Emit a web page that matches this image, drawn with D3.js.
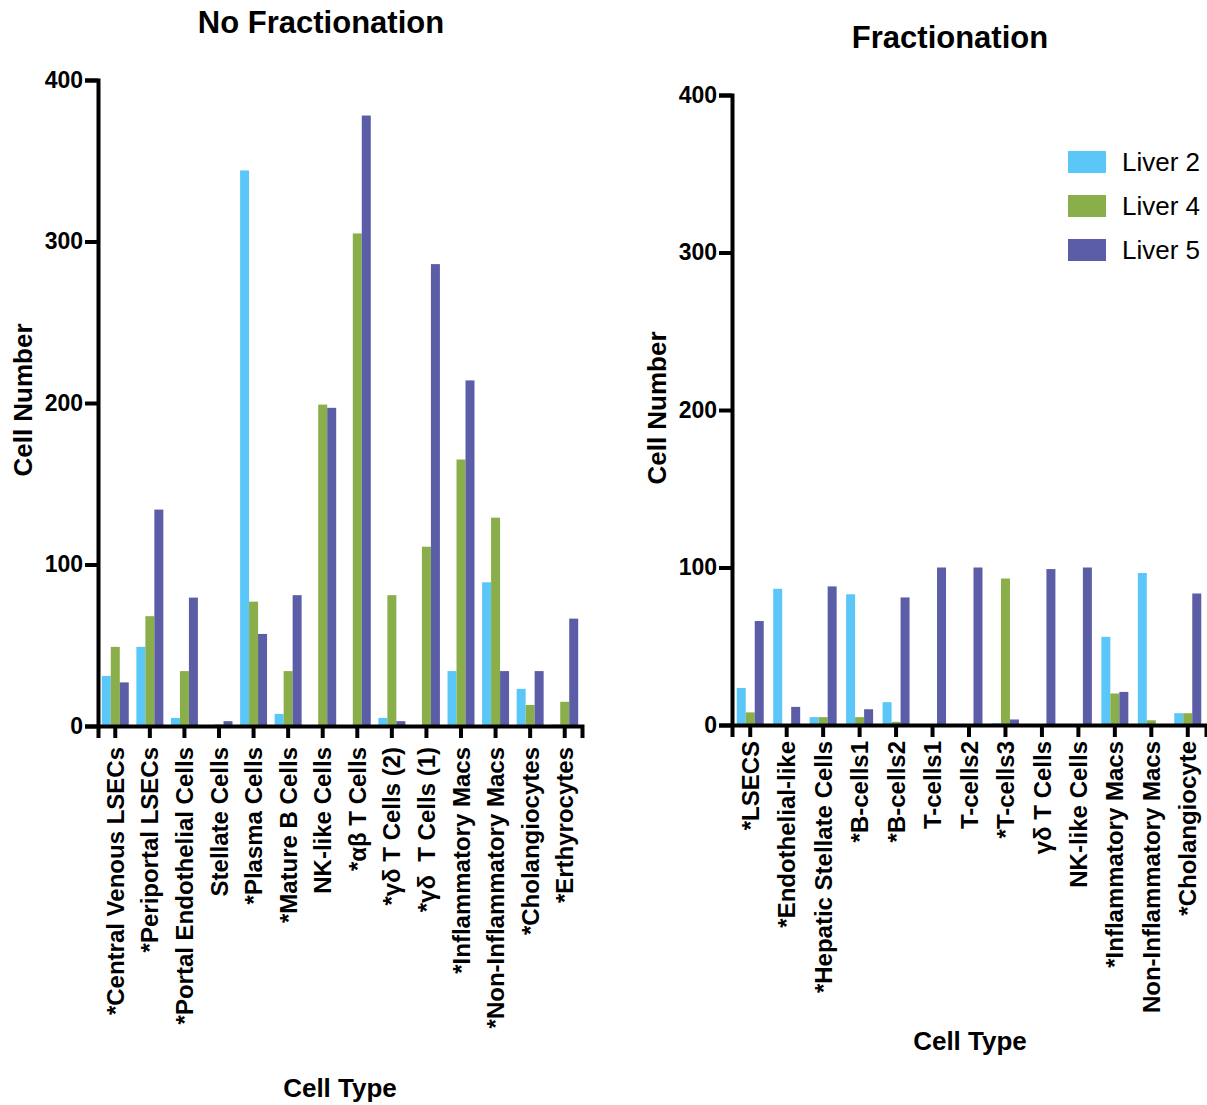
<!DOCTYPE html>
<html lang="en">
<head>
    <meta charset="UTF-8">
    <title>Cell Number by Cell Type</title>
    <script src="https://d3js.org/d3.v7.min.js"></script>
    <style>
        body { margin: 0; background: #fff; }
        svg { display: block; font-family: "Liberation Sans", Arial, sans-serif; }
        .axis path, .axis line { stroke: #000; stroke-width: 4; }
        .axis text { font-weight: bold; fill: #000; }
    </style>
</head>
<body>
    <div id="chart"></div>
    <script>
        // series
        const seriesNames = ["Liver 2", "Liver 4", "Liver 5"];
        const seriesColors = ["#5bc7f9", "#8aae4a", "#5b5da7"];
        const yTicks = [0, 100, 200, 300, 400];

        // No Fractionation
        const noFracCells = [
            "*Central Venous LSECs", "*Periportal LSECs", "*Portal Endothelial Cells",
            "Stellate Cells", "*Plasma Cells", "*Mature B Cells", "NK-like Cells",
            "*\u03b1\u03b2 T Cells", "*\u03b3\u03b4 T Cells (2)", "*\u03b3\u03b4 \u00a0T Cells (1)",
            "*Inflammatory Macs", "*Non-Inflammatory Macs", "*Cholangiocytes", "*Erthyrocytes"
        ];
        const noFracLiver2 = [31, 49, 5, 0, 344, 7.5, 0, 0, 5, 0, 34, 89, 23, 1];
        const noFracLiver4 = [49, 68, 34, 1, 77, 34, 199, 305, 81, 111, 165, 129, 13, 15];
        const noFracLiver5 = [27, 134, 79.5, 3, 57, 81, 197, 378, 3, 286, 214, 34, 34, 66.5];

        // Fractionation
        const fracCells = [
            "*LSECS", "*Endothelial-like", "*Hepatic Stellate Cells", "*B-cells1", "*B-cells2",
            "T-cells1", "T-cells2", "*T-cells3", "\u03b3\u03b4 T Cells", "NK-like Cells",
            "*Inflammatory Macs", "Non-Inflammatory Macs", "*Cholangiocyte"
        ];
        const fracLiver2 = [23.5, 86.5, 5, 83, 14.5, 0, 0, 1, 0, 0, 56, 96.5, 7.5];
        const fracLiver4 = [8, 0, 5, 5, 2, 0, 0, 93, 0, 0, 20, 3, 7.5];
        const fracLiver5 = [66, 11.5, 88, 10, 81, 100, 100, 3.5, 99, 100, 21, 0, 83.5];

        const svg = d3.select("#chart").append("svg")
            .attr("width", 1207)
            .attr("height", 1105);

        function drawPanel(opts) {
            const { cells, values, left, right, top, bottom } = opts;

            const x0 = d3.scaleBand()
                .domain(cells)
                .range([left, right])
                .paddingInner(opts.padInner)
                .paddingOuter(opts.padInner / 2);
            const x1 = d3.scaleBand()
                .domain(seriesNames)
                .range([0, x0.bandwidth()]);
            const y = d3.scaleLinear().domain([0, 400]).range([bottom, top]);

            const g = svg.append("g");

            // bars
            const rows = cells.map((c, i) => ({
                cell: c,
                vals: seriesNames.map((s, k) => ({ key: s, v: values[k][i], color: seriesColors[k] }))
            }));
            g.selectAll("g.grp")
                .data(rows)
                .join("g")
                .attr("class", "grp")
                .attr("transform", d => `translate(${x0(d.cell)},0)`)
                .selectAll("rect")
                .data(d => d.vals)
                .join("rect")
                .attr("x", d => x1(d.key))
                .attr("width", x1.bandwidth())
                .attr("y", d => y(d.v))
                .attr("height", d => y(0) - y(d.v))
                .attr("fill", d => d.color);

            // x axis
            const xAxis = g.append("g")
                .attr("class", "axis")
                .attr("transform", `translate(0,${bottom})`)
                .call(d3.axisBottom(x0).tickSizeOuter(0).tickSize(12));
            xAxis.selectAll("text")
                .attr("font-size", 24)
                .attr("transform", "rotate(-90)")
                .attr("text-anchor", "end")
                .attr("x", -opts.labelGap)
                .attr("y", 0)
                .attr("dy", "0.36em")
                .style("white-space", "pre");

            // y axis
            const yAxis = g.append("g")
                .attr("class", "axis")
                .attr("transform", `translate(${left},0)`)
                .call(d3.axisLeft(y).tickValues(yTicks).tickSizeOuter(0).tickSize(13).tickPadding(2));
            yAxis.selectAll("text").attr("font-size", 23);

            // titles
            g.append("text")
                .attr("x", opts.titleX).attr("y", opts.titleY)
                .attr("text-anchor", "middle")
                .attr("font-size", 31).attr("font-weight", "bold")
                .text(opts.title);
            g.append("text")
                .attr("x", opts.xLabelX).attr("y", opts.xLabelY)
                .attr("text-anchor", "middle")
                .attr("font-size", 26).attr("font-weight", "bold")
                .text("Cell Type");
            g.append("text")
                .attr("transform", `translate(${opts.yLabelX},${opts.yLabelY}) rotate(-90)`)
                .attr("text-anchor", "middle")
                .attr("font-size", 26).attr("font-weight", "bold")
                .text("Cell Number");
        }

        drawPanel({
            cells: noFracCells,
            values: [noFracLiver2, noFracLiver4, noFracLiver5],
            left: 98, right: 582, top: 80, bottom: 726,
            padInner: 0.22, labelGap: 21,
            title: "No Fractionation", titleX: 321, titleY: 33,
            xLabelX: 340, xLabelY: 1097,
            yLabelX: 32, yLabelY: 400
        });

        drawPanel({
            cells: fracCells,
            values: [fracLiver2, fracLiver4, fracLiver5],
            left: 732, right: 1206, top: 95, bottom: 725,
            padInner: 0.26, labelGap: 16,
            title: "Fractionation", titleX: 950, titleY: 48,
            xLabelX: 970, xLabelY: 1050,
            yLabelX: 666, yLabelY: 408
        });

        // legend
        const legend = svg.append("g").attr("transform", "translate(1068,151)");
        const item = legend.selectAll("g")
            .data(seriesNames)
            .join("g")
            .attr("transform", (d, i) => `translate(0,${i * 44})`);
        item.append("rect")
            .attr("width", 38).attr("height", 22)
            .attr("fill", (d, i) => seriesColors[i]);
        item.append("text")
            .attr("x", 54).attr("y", 20)
            .attr("font-size", 26)
            .text(d => d);
    </script>
</body>
</html>
